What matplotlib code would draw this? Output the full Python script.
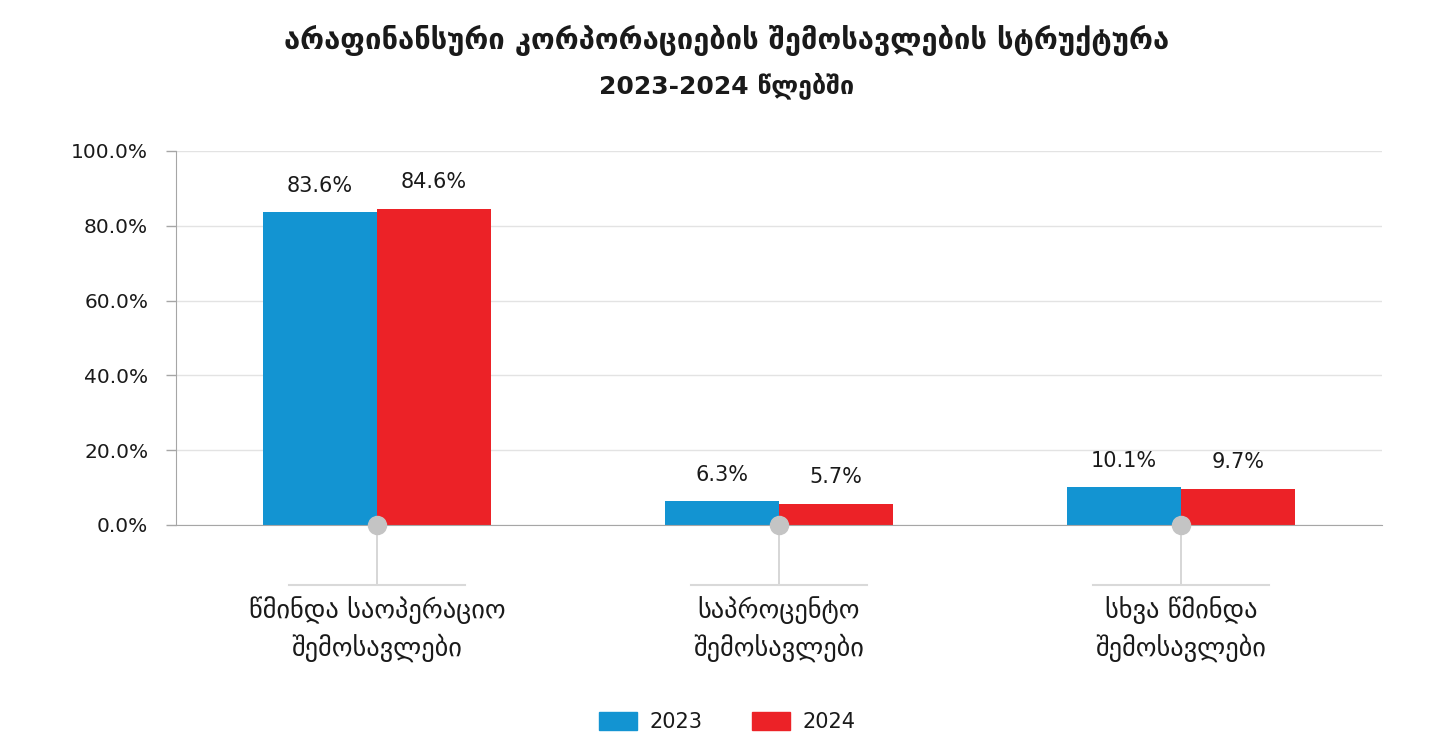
import matplotlib
matplotlib.use("Agg")
import matplotlib.pyplot as plt
from matplotlib.patches import Patch
from matplotlib.transforms import blended_transform_factory
from matplotlib.ticker import FuncFormatter

categories = ["წმინდა საოპერაციო\nშემოსავლები", "საპროცენტო\nშემოსავლები", "სხვა წმინდა\nშემოსავლები"]
years = ["2023", "2024"]
values_2023 = [83.6, 6.3, 10.1]
values_2024 = [84.6, 5.7, 9.7]
title_line1 = "არაფინანსური კორპორაციების შემოსავლების სტრუქტურა"
title_line2 = "2023-2024 წლებში"

blue = "#1394d2"
red = "#ec2227"
txt = "#1a1a1a"
axc = "#a6a6a6"

plt.rcParams['font.family'] = ['DejaVu Sans']
fig = plt.figure(figsize=(14.44, 7.52), dpi=100)
ax = fig.add_axes([176/1444, 1-525/752, (1382-176)/1444, (525-151)/752])

w = 0.284
x = list(range(len(categories)))
b1 = ax.bar([i - w/2 for i in x], values_2023, width=w, color=blue, zorder=3)
b2 = ax.bar([i + w/2 for i in x], values_2024, width=w, color=red, zorder=3)

for bars, vals in ((b1, values_2023), (b2, values_2024)):
    for r, v in zip(bars, vals):
        ax.annotate(f"{v:.1f}%", (r.get_x() + r.get_width()/2, v), xytext=(0, 19),
                    textcoords="offset points", ha="center", va="center",
                    fontsize=15, color=txt)

ax.set_xlim(-0.5, 2.5)
ax.set_ylim(0, 100)
ax.set_yticks([0, 20, 40, 60, 80, 100])
ax.yaxis.set_major_formatter(FuncFormatter(lambda v, p: f"{v:.1f}%"))
ax.tick_params(axis='y', labelsize=14.5, labelcolor=txt, color=axc, length=7, width=1, pad=13)
ax.set_xticks([])
ax.grid(axis='y', color="#e3e3e3", linewidth=1, zorder=0)
for s in ("top", "right"):
    ax.spines[s].set_visible(False)
ax.spines["left"].set_color(axc)
ax.spines["bottom"].set_color(axc)
ax.spines["bottom"].set_zorder(4)

tr = blended_transform_factory(ax.transData, ax.transAxes)
ybot = (525 - 585) / 374
for i, lab in zip(x, categories):
    ax.plot([i, i], [0, ybot], transform=tr, color="#cfcfcf", lw=1.2, clip_on=False, zorder=2)
    ax.plot([i - 0.219, i + 0.219], [ybot, ybot], transform=tr, color="#d9d9d9", lw=1.5, clip_on=False, zorder=2)
    ax.plot([i], [0], transform=tr, marker="o", markersize=13, color="#c4c4c4", clip_on=False, zorder=5)
    ax.text(i, (525 - 629) / 374, lab, transform=tr, ha="center", va="center",
            fontsize=19, color=txt, linespacing=1.45)

fig.text(727/1444, 1 - 40/752, title_line1, ha="center", va="center", fontsize=21,
         fontweight="bold", color=txt)
fig.text(727/1444, 1 - 86/752, title_line2, ha="center", va="center", fontsize=18,
         fontweight="bold", color=txt)

handles = [Patch(color=blue, label=years[0]), Patch(color=red, label=years[1])]
fig.legend(handles=handles, loc="center", bbox_to_anchor=(727/1444, 1 - 722/752), ncol=2,
           frameon=False, fontsize=15, handlelength=1.8, handleheight=1.0,
           handletextpad=0.6, columnspacing=2.4, labelcolor=txt)

fig.savefig("out.png", dpi=100, facecolor="white")
